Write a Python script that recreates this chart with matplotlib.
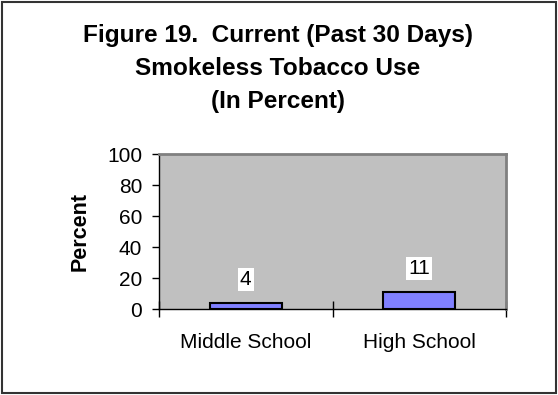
import matplotlib
matplotlib.use("Agg")
import matplotlib.pyplot as plt
from matplotlib.patches import Rectangle

categories = ["Middle School", "High School"]
values = [4, 11]
yticks = [0, 20, 40, 60, 80, 100]
title = "Figure 19.  Current (Past 30 Days)\nSmokeless Tobacco Use\n(In Percent)"

plt.rcParams["font.family"] = ["Liberation Sans", "DejaVu Sans"]

fig = plt.figure(figsize=(5.58, 3.95), dpi=100)
fig.patch.set_facecolor("white")

# outer frame around the whole figure
fig.patches.append(Rectangle((0.004, 0.005), 0.992, 0.99, transform=fig.transFigure,
                             fill=False, edgecolor="#333333", linewidth=1.5))

fig.text(0.498, 0.7266, title, ha="center", va="baseline", fontsize=17.6,
         fontweight="bold", linespacing=1.55)

ax = fig.add_axes([0.285, 0.2177, 0.622, 0.3924])
ax.set_facecolor("#C0C0C0")

x = list(range(len(categories)))
bars = ax.bar(x, values, width=0.415, color="#8080FF", edgecolor="black", linewidth=1.5,
              zorder=3)

for xi, v in zip(x, values):
    ax.annotate(str(v), (xi, v), xytext=(0, 17), textcoords="offset points",
                ha="center", va="center", fontsize=15,
                bbox=dict(boxstyle="square,pad=0.1", facecolor="white", edgecolor="none"))

ax.set_xlim(-0.5, len(categories) - 0.5)
ax.set_ylim(0, 100)
ax.set_yticks(yticks)
ax.set_xticks(x)
ax.set_xticklabels(categories)
ax.set_xticks([i - 0.5 for i in range(len(categories) + 1)], minor=True)
ax.tick_params(axis="x", which="major", length=0, pad=17, labelsize=15)
ax.tick_params(axis="x", which="minor", length=11, direction="inout", width=1)
ax.tick_params(axis="y", length=5, direction="out", width=1, pad=7, labelsize=15)

for side in ("top", "right"):
    ax.spines[side].set_color("#808080")
    ax.spines[side].set_linewidth(2)
for side in ("left", "bottom"):
    ax.spines[side].set_color("black")
    ax.spines[side].set_linewidth(1)

ax.set_ylabel("Percent", fontsize=15.5, fontweight="bold")
ax.yaxis.set_label_coords(-0.196, 0.5)

fig.savefig("out.png", dpi=100)
